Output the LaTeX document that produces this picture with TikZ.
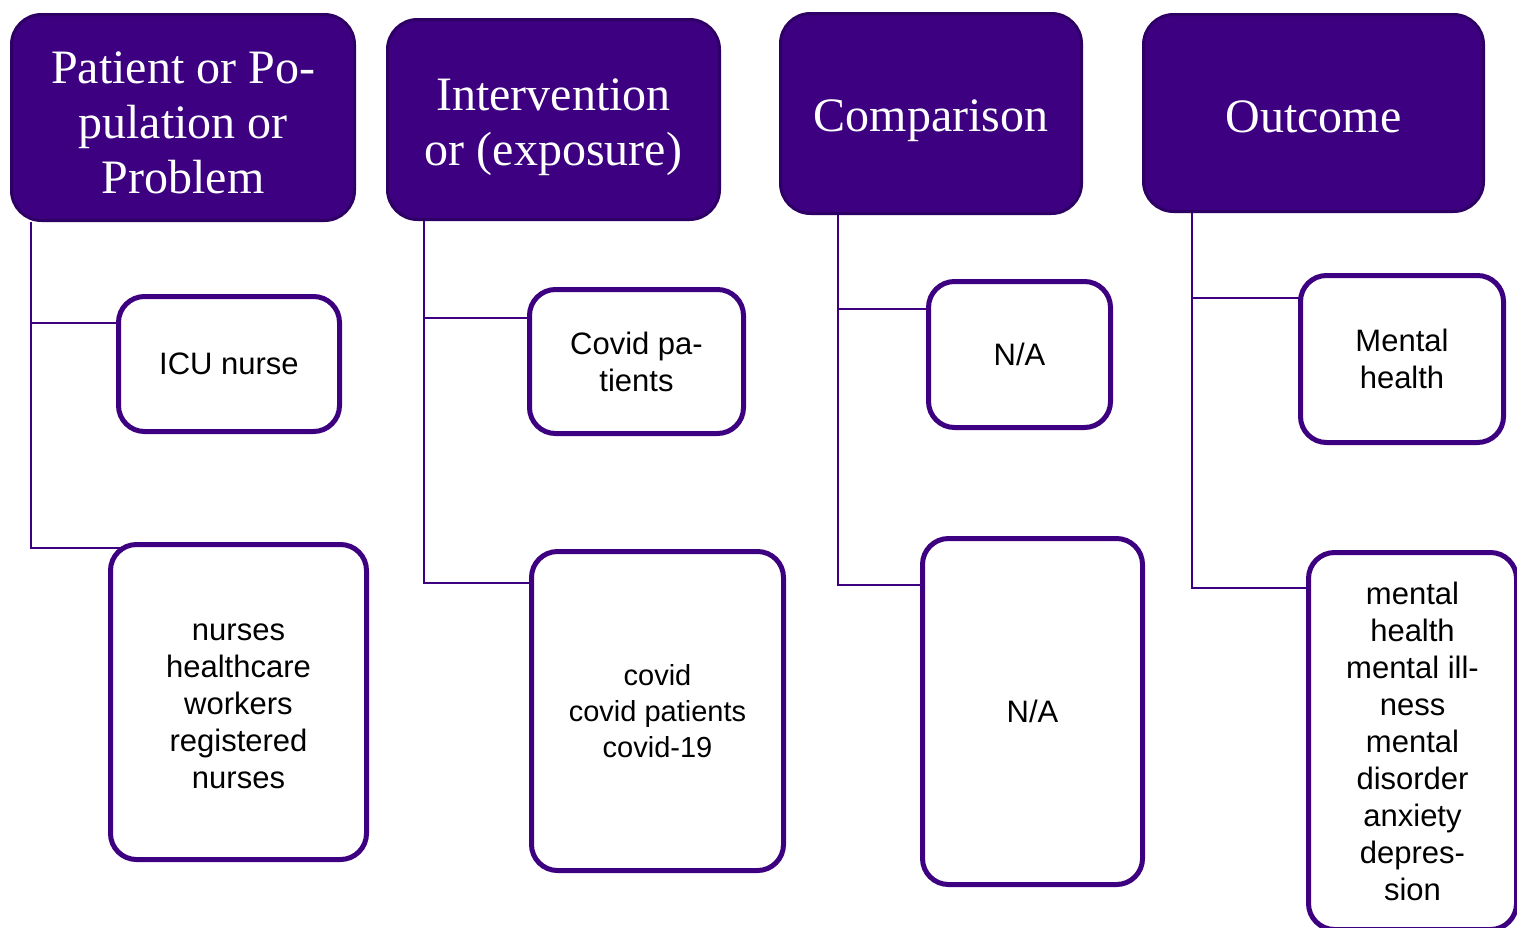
\documentclass[tikz,border=0pt]{standalone}
\usepackage{fontspec}
\setmainfont{Liberation Serif}
\newfontfamily\arialf{Liberation Sans}
\usetikzlibrary{backgrounds}
\definecolor{pfill}{HTML}{3C0080}
\definecolor{pline}{HTML}{2E0066}
\definecolor{cline}{HTML}{3C0080}
\tikzset{
  header/.style={draw=pline, fill=pfill, line width=3pt, rounded corners=30pt,
    inner sep=0pt},
  htext/.style={text=white, align=center, inner sep=0pt,
    font=\fontsize{48}{55}\selectfont},
  ctext/.style={text=black, align=center, inner sep=0pt,
    font=\arialf\fontsize{31}{37}\selectfont},
  childbox/.style={draw=cline, fill=white, line width=5pt, rounded corners=26pt,
    text=black, align=center, inner sep=0pt,
    font=\arialf\fontsize{31}{37}\selectfont},
  conn/.style={draw=cline, line width=2.5pt},
}
\begin{document}
\begin{tikzpicture}[x=1pt,y=-1pt]
\useasboundingbox (0,0) rectangle (1517,927);
\clip (0,0) rectangle (1517,927);
% headers
\node[header, minimum width=343, minimum height=206,
  label={[htext, yshift=-5pt]center:{Patient or Po-\\pulation or\\Problem}}] (hP) at (183,117.5) {};
\node[header, minimum width=332, minimum height=200,
  label={[htext, yshift=-8pt]center:{Intervention\\or (exposure)}}] (hI) at (553.5,119.5) {};
\node[header, minimum width=301, minimum height=200,
  label={[htext, yshift=-7pt]center:{Comparison}}] (hC) at (931,113.5) {};
\node[header, minimum width=340, minimum height=197,
  label={[htext, yshift=-4pt]center:{Outcome}}] (hO) at (1313.5,113) {};
% children
\node[childbox, minimum width=221, minimum height=135] (p1) at (229,364) {ICU nurse};
\node[childbox, minimum width=256, minimum height=315,
  label={[ctext, yshift=-4pt]center:{nurses\\healthcare\\workers\\registered\\nurses}}] (p2) at (238.5,702) {};
\node[childbox, minimum width=214, minimum height=144] (i1) at (636.5,361.5) {Covid pa-\\tients};
\node[childbox, minimum width=252, minimum height=319, font=\arialf\fontsize{29}{36}\selectfont] (i2) at (657.5,711) {covid\\covid patients\\covid-19};
\node[childbox, minimum width=182, minimum height=146] (c1) at (1019.5,354.5) {N/A};
\node[childbox, minimum width=220, minimum height=346] (c2) at (1032.5,711.5) {N/A};
\node[childbox, minimum width=203, minimum height=167] (o1) at (1402,359) {Mental\\health};
\node[childbox, minimum width=208, minimum height=377] (o2) at (1412.5,741) {mental\\health\\mental ill-\\ness\\mental\\disorder\\anxiety\\depres-\\sion};
% connectors
\coordinate (tP) at (31,548);
\coordinate (jP1) at (31,323);
\coordinate (tI) at (424,583);
\coordinate (jI1) at (424,318);
\coordinate (tC) at (838,585);
\coordinate (jC1) at (838,309);
\coordinate (tO) at (1192,588);
\coordinate (jO1) at (1192,298);
\begin{scope}[on background layer]
\draw[conn] (tP |- hP.south) -- (tP) -- (tP -| p2.center);
\draw[conn] (jP1) -- (jP1 -| p1.center);
\draw[conn] (tI |- hI.south) -- (tI) -- (tI -| i2.center);
\draw[conn] (jI1) -- (jI1 -| i1.center);
\draw[conn] (tC |- hC.south) -- (tC) -- (tC -| c2.center);
\draw[conn] (jC1) -- (jC1 -| c1.center);
\draw[conn] (tO |- hO.south) -- (tO) -- (tO -| o2.center);
\draw[conn] (jO1) -- (jO1 -| o1.center);
\end{scope}
\end{tikzpicture}
\end{document}
